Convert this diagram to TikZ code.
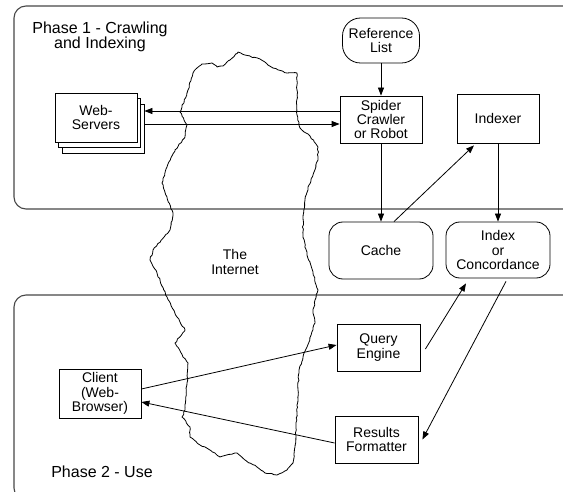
\documentclass[tikz,border=0pt]{standalone}
\usepackage{fontspec}
\setmainfont{Liberation Sans}
\usetikzlibrary{arrows.meta,decorations.pathmorphing}

\definecolor{frameGray}{HTML}{474747}

\tikzset{
  box/.style={draw,line width=0.8pt,fill=white,inner sep=0pt,align=center,
    minimum width=82pt,minimum height=48pt},
  rbox/.style={box,rounded corners=14pt,minimum width=104pt,minimum height=56pt},
  arr/.style={-{Triangle[length=8pt,width=6pt]},line width=0.8pt},
  phase/.style={draw=frameGray,line width=1.1pt,rounded corners=12pt},
  phaselabel/.style={align=center,font=\fontsize{16}{15.5}\selectfont},
}

\begin{document}
\begin{tikzpicture}[x=1pt,y=-1pt,font=\fontsize{14}{14.2}\selectfont]

  \useasboundingbox (0,0) rectangle (563,492);

  % Phase frames
  \draw[phase] (14,6) rectangle (575,209);
  \draw[phase] (14,295) rectangle (575,500);

  \node[phaselabel] (phaseA) at (100,37) {Phase 1 - Crawling\\and Indexing};
  \node[phaselabel] (phaseB) at (102,472) {Phase 2 - Use};

  % The Internet
  \pgfmathsetseed{11}
  \draw[line width=0.8pt,line join=round,decorate,
        decoration={random steps,segment length=2.5pt,amplitude=0.6pt}]
    plot coordinates {
      (197,68) (202,64) (212,63) (217,67) (223,66) (230,60) (238,52) (245,55)
      (260,59) (273,68) (287,73) (297,73) (297,90) (297,115) (300,128)
      (310,136) (318,147) (318,160) (314,172) (309,185) (305,200) (303,217)
      (303,235) (307,255) (313,273) (318,290) (315,300) (313,313) (315,323)
      (307,347) (303,357) (299,370) (298,390) (297,413) (295,447) (293,463)
      (287,470) (277,475) (265,473) (257,467) (245,460) (237,453) (220,457)
      (215,453) (200,445) (190,437) (190,427) (182,417) (185,410) (187,383)
      (188,363) (183,357) (175,343) (185,330) (177,317) (167,297) (157,273)
      (150,260) (153,250) (170,230) (173,213) (167,197) (162,183) (167,167)
      (175,150) (185,137) (187,125) (180,112) (182,107) (188,90) (193,73)
      (197,68)};
  \node[align=center] (internet) at (235,262) {The\\Internet};

  % Phase 1 nodes
  \node[box,rounded corners=18pt,minimum width=77pt,minimum height=45pt] (ref) at (381,40.5) {Reference\\List};
  \node[box,minimum height=47pt] (spider) at (381,119.5) {Spider\\Crawler\\or Robot};
  \node[box,minimum height=49pt] (indexer) at (498,118.5) {Indexer};

  \node[box,minimum height=49pt] (webc) at (103,128.5) {};
  \node[box,minimum height=49pt] (webb) at (99.5,123) {};
  \node[box,minimum height=49pt] (web) at (96,117.5) {Web-\\Servers};

  \node[rbox,minimum height=57pt] (cache) at (381,250.5) {Cache};
  \node[rbox] (index) at (498,250) {Index\\or\\Concordance};

  % Phase 2 nodes
  \node[box,minimum width=83pt,minimum height=47pt] (query) at (378.5,347.5) {Query\\Engine};
  \node[box,minimum width=83pt,minimum height=47pt] (results) at (376.5,439.5) {Results\\Formatter};
  \node[box,minimum height=49pt] (client) at (100,393.5) {Client\\(Web-\\Browser)};

  % Connectors
  \coordinate (sOut) at ([yshift=8.5pt]spider.west);
  \coordinate (sIn) at ([yshift=-4.5pt]spider.west);

  \draw[arr] (ref) -- (spider);
  \draw[arr] (sOut) -- (sOut -| webc.east);
  \draw[arr] (sIn -| webc.east) -- (sIn);
  \draw[arr] (spider) -- (cache);
  \draw[arr] (indexer) -- (index);
  \draw[arr] ([xshift=13pt]cache.north) -- ([xshift=-24pt,yshift=-2pt]indexer.south);

  \draw[arr] ([xshift=5pt,yshift=-1.5pt]query.east) -- ([xshift=-32pt,yshift=-5pt]index.south);
  \draw[arr] ([xshift=8pt,yshift=-3pt]index.south) -- ([xshift=4pt]results.east);
  \draw[arr] ([yshift=4.5pt]client.east) -- ([yshift=2.5pt]query.west);
  \draw[arr] ([yshift=-3.5pt]results.west) -- ([yshift=-8.5pt]client.east);

\end{tikzpicture}
\end{document}
